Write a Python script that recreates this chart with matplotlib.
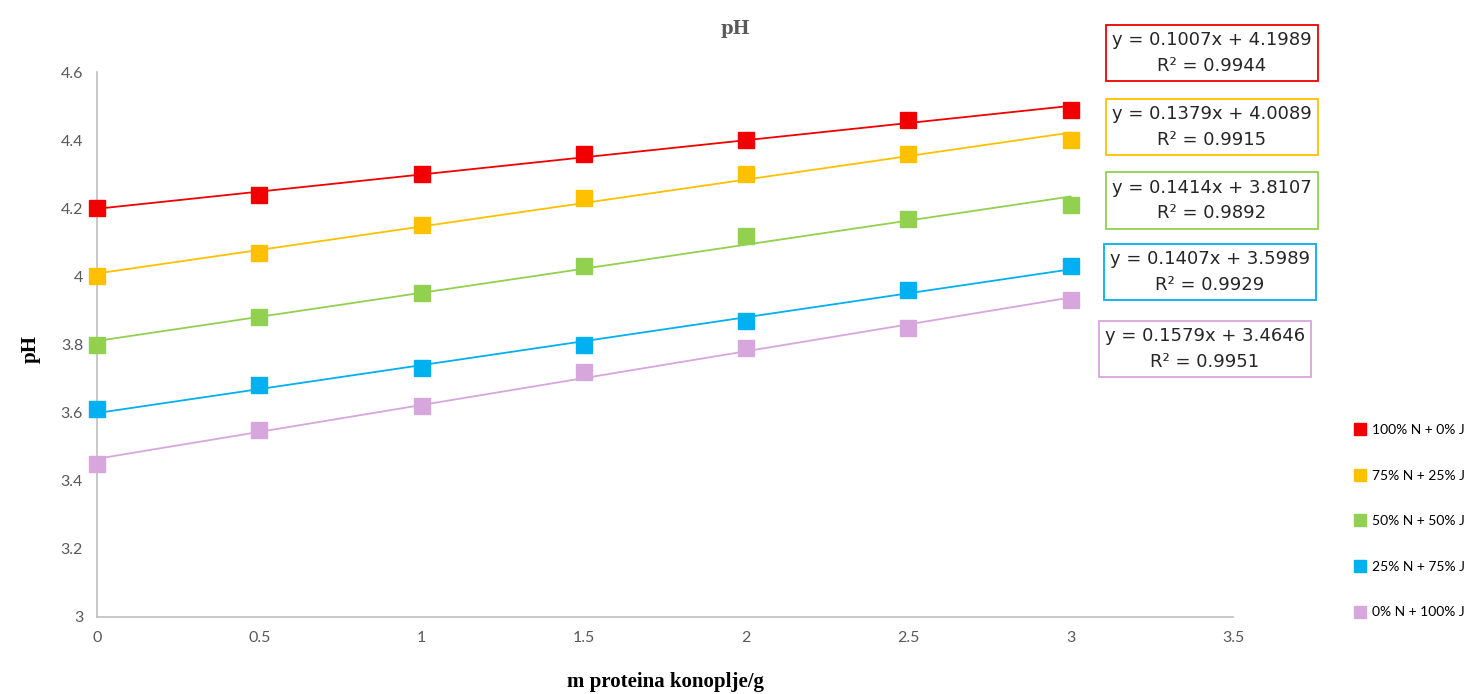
import matplotlib
matplotlib.use("Agg")
import matplotlib.pyplot as plt
from matplotlib.lines import Line2D
import numpy as np

# masa proteina konoplje (g)
x_mass = [0, 0.5, 1, 1.5, 2, 2.5, 3]

series_labels = ["100% N + 0% J", "75% N + 25% J", "50% N + 50% J",
                 "25% N + 75% J", "0% N + 100% J"]
ph_100N = [4.20, 4.24, 4.30, 4.36, 4.40, 4.46, 4.49]
ph_75N = [4.00, 4.07, 4.15, 4.23, 4.30, 4.36, 4.40]
ph_50N = [3.80, 3.88, 3.95, 4.03, 4.12, 4.17, 4.21]
ph_25N = [3.61, 3.68, 3.73, 3.80, 3.87, 3.96, 4.03]
ph_0N = [3.45, 3.55, 3.62, 3.72, 3.79, 3.85, 3.93]

# trendline coefficients shown on the chart
slopes = [0.1007, 0.1379, 0.1414, 0.1407, 0.1579]
intercepts = [4.1989, 4.0089, 3.8107, 3.5989, 3.4646]
r2_values = [0.9944, 0.9915, 0.9892, 0.9929, 0.9951]

colors = ["#f00000", "#ffc000", "#92d050", "#00b0f0", "#d6a6dc"]
all_series = [ph_100N, ph_75N, ph_50N, ph_25N, ph_0N]

fig = plt.figure(figsize=(14.65, 6.94), dpi=100)
ax = fig.add_axes([0.0662, 0.111, 0.7754, 0.785])

xs = np.array([0, 3])
for vals, k, n, c in zip(all_series, slopes, intercepts, colors):
    ax.plot(xs, k * xs + n, color=c, lw=1.3, zorder=2)
    ax.plot(x_mass, vals, ls="none", marker="s", ms=11, color=c, zorder=3,
            clip_on=False)

ax.set_xlim(0, 3.5)
ax.set_ylim(3, 4.6)
ax.set_xticks(np.arange(0, 3.6, 0.5))
ax.set_xticklabels(["0", "0.5", "1", "1.5", "2", "2.5", "3", "3.5"])
ax.set_yticks(np.arange(3, 4.61, 0.2))
ax.set_yticklabels(["3", "3.2", "3.4", "3.6", "3.8", "4", "4.2", "4.4", "4.6"])
ax.tick_params(length=0, labelsize=11.5, labelcolor="#595959", pad=10)
for lab in ax.get_xticklabels() + ax.get_yticklabels():
    lab.set_family("Lato")
for side in ["top", "right"]:
    ax.spines[side].set_visible(False)
for side in ["left", "bottom"]:
    ax.spines[side].set_color("#bfbfbf")
    ax.spines[side].set_linewidth(1.2)

fig.text(0.502, 0.958, "pH", ha="center", va="center", fontsize=13,
         fontweight="bold", family="DejaVu Serif", color="#595959")
fig.text(0.021, 0.497, "pH", ha="center", va="center", rotation=90,
         fontsize=15, fontweight="bold", family="Liberation Serif")
fig.text(0.454, 0.017, "m proteina konoplje/g", ha="center", va="center",
         fontsize=15, fontweight="bold", family="Liberation Serif")

# equation boxes
box_pos = [(0.8273, 0.924), (0.8273, 0.817), (0.8273, 0.711),
           (0.8259, 0.608), (0.8225, 0.497)]
for (bx, by), k, n, r2, c in zip(box_pos, slopes, intercepts, r2_values, colors):
    fig.text(bx, by, f"y = {k:.4f}x + {n:.4f}\nR² = {r2:.4f}",
             ha="center", va="center", fontsize=13, family="DejaVu Sans",
             linespacing=1.55, color="#262626",
             bbox=dict(boxstyle="square,pad=0.35", fc="white", ec=c, lw=1.3))

handles = [Line2D([], [], ls="none", marker="s", ms=9, color=c) for c in colors]
fig.legend(handles, series_labels, loc="upper left",
           bbox_to_anchor=(0.922, 0.397), frameon=False,
           prop={"family": "Lato", "size": 10}, labelspacing=2.42,
           handlelength=0.6, handletextpad=0.5, borderaxespad=0)

fig.savefig("out.png", dpi=100, facecolor="white")
